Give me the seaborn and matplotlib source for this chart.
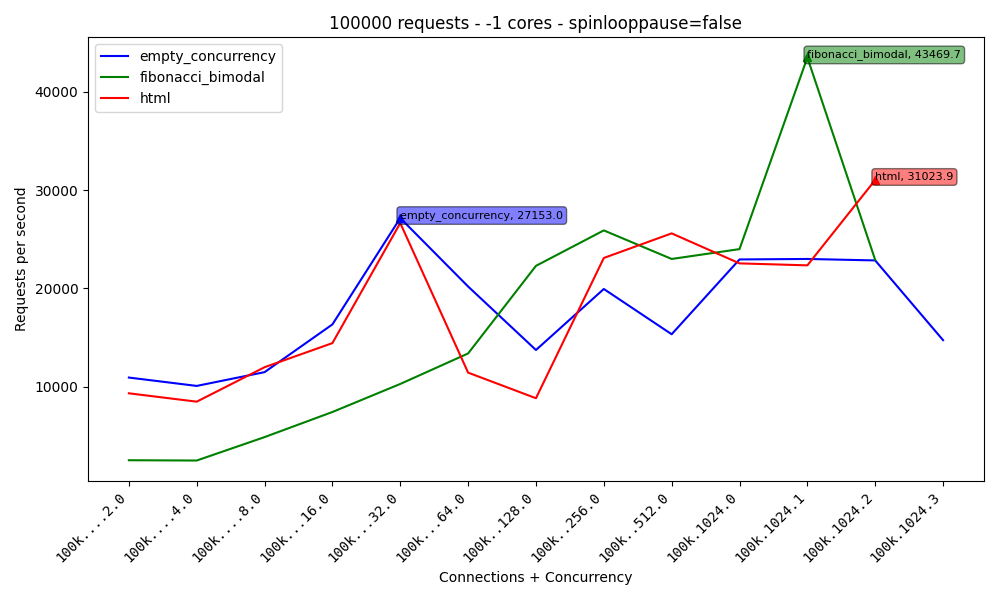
import matplotlib
matplotlib.use("Agg")
import matplotlib.pyplot as plt
import seaborn as sns
import pandas as pd

labels = ["100k....2.0", "100k....4.0", "100k....8.0", "100k...16.0", "100k...32.0",
          "100k...64.0", "100k..128.0", "100k..256.0", "100k..512.0", "100k.1024.0",
          "100k.1024.1", "100k.1024.2", "100k.1024.3"]
empty_concurrency = [10950, 10100, 11500, 16350, 27153.0, 20200, 13750, 19950, 15350, 22950, 23000, 22850, 14750]
fibonacci_bimodal = [2550, 2520, 4900, 7450, 10300, 13400, 22300, 25900, 23000, 24000, 43469.7, 22900]
html = [9350, 8500, 12000, 14450, 26650, 11450, 8850, 23100, 25600, 22550, 22350, 31023.9]

series = [("empty_concurrency", empty_concurrency, "blue"),
          ("fibonacci_bimodal", fibonacci_bimodal, "green"),
          ("html", html, "red")]

rows = []
for name, vals, _ in series:
    for i, v in enumerate(vals):
        rows.append({"x": i, "y": v, "series": name})
df = pd.DataFrame(rows)

fig, ax = plt.subplots(figsize=(10, 6), dpi=100)
sns.lineplot(data=df, x="x", y="y", hue="series",
             palette={n: c for n, _, c in series}, ax=ax)
for name, vals, c in series:
    i = max(range(len(vals)), key=lambda k: vals[k])
    ax.plot(i, vals[i], "^", color=c)
    ax.annotate(f"{name}, {vals[i]:.1f}", (i, vals[i]), fontsize=8,
                bbox=dict(boxstyle="round", fc=c, alpha=0.5))
ax.set_xticks(range(len(labels)))
ax.set_xticklabels(labels, rotation=45, ha="right", family="monospace")
ax.set_xlabel("Connections + Concurrency")
ax.set_ylabel("Requests per second")
ax.set_title("100000 requests - -1 cores - spinlooppause=false")
ax.legend(loc="upper left")
fig.tight_layout()
fig.savefig("out.png")
